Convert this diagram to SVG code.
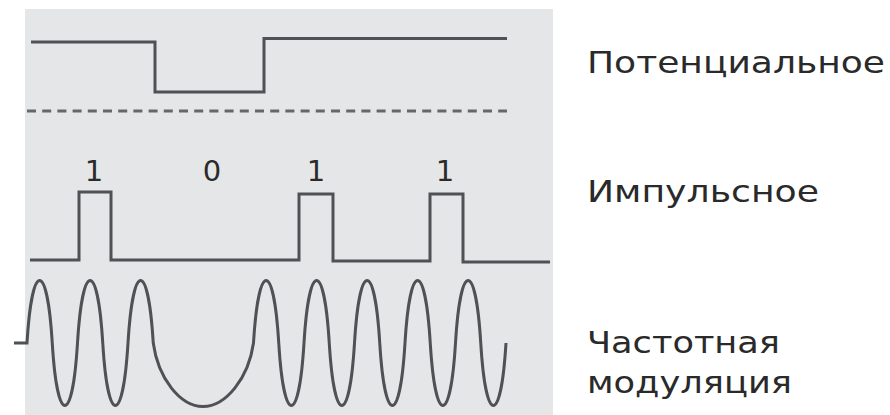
<svg xmlns="http://www.w3.org/2000/svg" width="890" height="415" viewBox="0 0 890 415">
<style>
.sig{fill:none;stroke:#505154;stroke-width:3;stroke-linejoin:miter}
.dash{fill:none;stroke:#66676a;stroke-width:3;stroke-dasharray:9 6.2}
.lbl{font-family:"DejaVu Sans","Noto Sans",sans-serif;font-size:31px;fill:#2a2a2a}
.bit{font-family:"DejaVu Sans","Noto Sans",sans-serif;font-size:29px;fill:#2a2a2a;text-anchor:middle}
</style>
<rect x="0" y="0" width="890" height="415" fill="#ffffff"/>
<rect id="panel" x="25" y="9" width="528" height="406" fill="#e5e6e8"/>
<g id="connectors">
<path id="potential" class="sig" d="M31,42 H155 V92 H264 V38.5 H507"/>
<line id="divider" class="dash" x1="27" y1="111" x2="507" y2="111"/>
<path id="pulse" class="sig" d="M30,260 H79 V192 H111 V260 H299 V194 H333 V261 H430 V194 H463 V262 H550"/>
<path id="fm" class="sig" d="M14,343 H27 C32.05,259.7 47.2,259.7 52.25,343 C57.3,426.3 72.45,426.3 77.5,343 C82.55,259.7 97.7,259.7 102.75,343 C107.8,426.3 122.95,426.3 128,343 C133.05,259.7 148.2,259.7 153.25,343 C158,378 180,406.5 203,406.5 C226,406.5 248.5,378 253.5,343 C258.55,259.7 273.7,259.7 278.75,343 C283.8,426.3 298.95,426.3 304,343 C309.05,259.7 324.2,259.7 329.25,343 C334.3,426.3 349.45,426.3 354.5,343 C359.55,259.7 374.7,259.7 379.75,343 C384.8,426.3 399.95,426.3 405,343 C410.05,259.7 425.2,259.7 430.25,343 C435.3,426.3 450.45,426.3 455.5,343 C460.55,259.7 475.7,259.7 480.75,343 C485.8,426.3 500.95,426.3 506,343"/>
</g>
<g id="bits">
<text class="bit" x="94" y="181">1</text>
<text class="bit" x="212" y="181">0</text>
<text class="bit" x="316" y="181">1</text>
<text class="bit" x="445" y="181">1</text>
</g>
<g id="label-potential"><text class="lbl" x="587" y="73" textLength="298" lengthAdjust="spacingAndGlyphs">Потенциальное</text></g>
<g id="label-pulse"><text class="lbl" x="587" y="202" textLength="232" lengthAdjust="spacingAndGlyphs">Импульсное</text></g>
<g id="label-fm">
<text class="lbl" x="587" y="353" textLength="193" lengthAdjust="spacingAndGlyphs">Частотная</text>
<text class="lbl" x="587" y="393" textLength="205" lengthAdjust="spacingAndGlyphs">модуляция</text>
</g>
</svg>
